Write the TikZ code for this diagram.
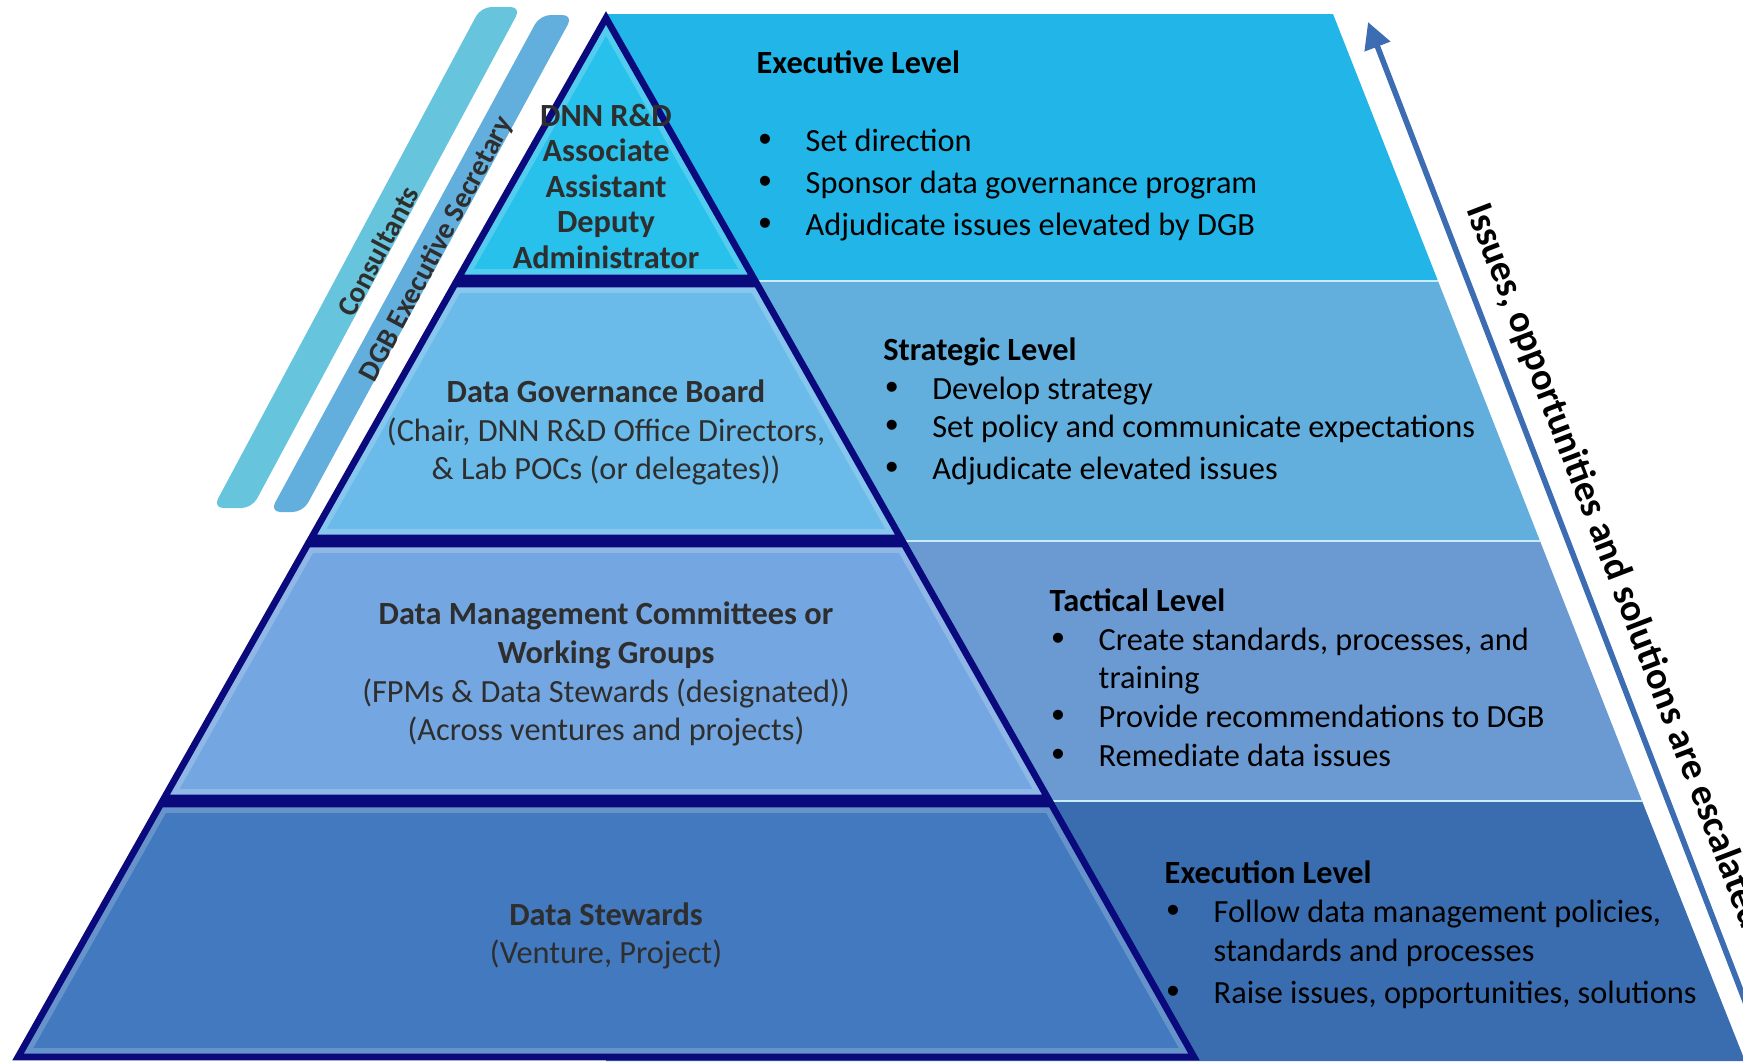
\documentclass[tikz,border=0pt]{standalone}
\usepackage{fontspec}
\setmainfont{Carlito}
\newfontfamily\bulletfont{Liberation Sans}
\usetikzlibrary{arrows.meta}

\definecolor{execband}{HTML}{22B5E8}
\definecolor{stratband}{HTML}{62AEDC}
\definecolor{tactband}{HTML}{6B9AD3}
\definecolor{runband}{HTML}{3A6DAF}
\definecolor{tierone}{HTML}{27C1EB}
\definecolor{tiertwo}{HTML}{6ABAEA}
\definecolor{tierthree}{HTML}{74A7E1}
\definecolor{tierfour}{HTML}{4279BF}
\definecolor{tiernavy}{HTML}{0A0A7C}
\definecolor{consultrail}{HTML}{66C4DC}
\definecolor{secrail}{HTML}{62AEDC}
\definecolor{escblue}{HTML}{3C6DB3}
\definecolor{inkgray}{HTML}{2E2E2E}

\newcommand{\bul}{\makebox[4.9mm][l]{\hspace{0.2mm}{\bulletfont\fontsize{10.5}{11}\selectfont\char"2022}}}
\newcommand{\pyrtier}[2]{%
  \fill[#1] #2;
  \begin{scope}\clip #2; \draw[bevel] #2; \end{scope}
  \draw[tier] #2;}

\tikzset{
  tier/.style={draw=tiernavy, line width=1.9pt, line join=miter},
  bevel/.style={draw=white, opacity=0.2, line width=5pt},
  bandsep/.style={draw=white!75!execband, line width=0.7pt},
  tiertext/.style={align=center, text=inkgray, inner sep=0pt, anchor=north,
    font=\fontsize{9.2}{11}\selectfont},
  leveltext/.style={align=left, text=black, inner sep=0pt, anchor=north west,
    font=\fontsize{9.2}{11}\selectfont},
  railtext/.style={text=inkgray, inner sep=0pt, rotate=62,
    font=\bfseries\fontsize{8.3}{10}\selectfont},
  escalate/.style={escblue, line width=1.6pt, -{Triangle[length=7.5pt,width=7.5pt]}}
}

\begin{document}
\begin{tikzpicture}[x=0.1mm, y=-0.1mm]
\clip (0,0) rectangle (1743,1061);

% bands behind the pyramid
\fill[execband] (606,14) -- (1333,14) -- (1438,281) -- (606,281) -- cycle;
\fill[stratband] (606,281) -- (1438,281) -- (1540,541) -- (606,541) -- cycle;
\fill[tactband] (606,541) -- (1540,541) -- (1642,801) -- (606,801) -- cycle;
\fill[runband] (606,801) -- (1642,801) -- (1745,1061) -- (606,1061) -- cycle;
\draw[bandsep] (606,281) -- (1438,281);
\draw[bandsep] (606,541) -- (1540,541);
\draw[bandsep] (606,801) -- (1642,801);

% side rails
\fill[consultrail, rounded corners=3pt] (481,7) -- (521,7) -- (252,508) -- (213,508) -- cycle;
\fill[secrail, rounded corners=3pt] (540,15) -- (573,15) -- (303,512) -- (270,512) -- cycle;
\node[railtext] (consult) at (378,251) {Consultants};
\node[railtext] (secretary) at (437,249) {DGB Executive Secretary};

% pyramid
\pyrtier{tierone}{(606,18) -- (753.6,278) -- (458.4,278) -- cycle}
\pyrtier{tiertwo}{(455,284) -- (757,284) -- (900.7,538) -- (311.3,538) -- cycle}
\pyrtier{tierthree}{(307.9,544) -- (904.1,544) -- (1047.8,798) -- (164.2,798) -- cycle}
\pyrtier{tierfour}{(160.8,804) -- (1051.2,804) -- (1194,1057) -- (18,1057) -- cycle}

\node[tiertext, font=\bfseries\fontsize{9.2}{10.1}\selectfont] (exec) at (606,103)
  {DNN R\&D\\Associate\\Assistant\\Deputy\\Administrator};
\node[tiertext] (dgb) at (606,379)
  {\textbf{Data Governance Board}\\(Chair, DNN R\&D Office Directors,\\\& Lab POCs (or delegates))};
\node[tiertext] (dmc) at (606,601.5)
  {\textbf{Data Management Committees or}\\\textbf{Working Groups}\\(FPMs \& Data Stewards (designated))\\(Across ventures and projects)};
\node[tiertext] (stewards) at (606,901.6)
  {\textbf{Data Stewards}\\(Venture, Project)};

% level descriptions
\node[leveltext] (execlevel) at (756,50)
  {\textbf{Executive Level}\\[11.1pt]
   \bul Set direction\\[1pt]
   \bul Sponsor data governance program\\[1pt]
   \bul Adjudicate issues elevated by DGB};
\node[leveltext] (stratlevel) at (882.6,337)
  {\textbf{Strategic Level}\\
   \bul Develop strategy\\
   \bul Set policy and communicate expectations\\[1pt]
   \bul Adjudicate elevated issues};
\node[leveltext] (tactlevel) at (1049,588)
  {\textbf{Tactical Level}\\
   \bul Create standards, processes, and\\
   \hspace*{4.9mm}training\\
   \bul Provide recommendations to DGB\\
   \bul Remediate data issues};
\node[leveltext] (runlevel) at (1164,860.5)
  {\textbf{Execution Level}\\
   \bul Follow data management policies,\\
   \hspace*{4.9mm}standards and processes\\[1pt]
   \bul Raise issues, opportunities, solutions};

% escalation arrow
\coordinate (esctail) at (1768,1061);
\coordinate (esctip) at (1368,22);
\draw[escalate] (esctail) -- (esctip);
\node[anchor=base west, rotate=-69, inner sep=0pt, font=\bfseries\fontsize{10.9}{12}\selectfont]
  (esclabel) at (1466,209) {Issues, opportunities and solutions are escalated};
\end{tikzpicture}
\end{document}
